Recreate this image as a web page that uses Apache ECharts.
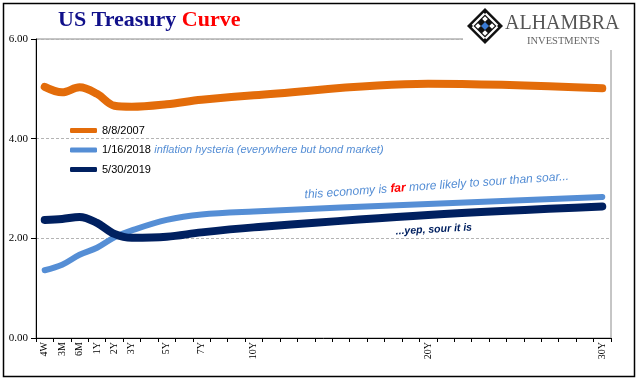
<!DOCTYPE html>
<html>
<head>
<meta charset="utf-8">
<script src="https://cdn.jsdelivr.net/npm/echarts@6/dist/echarts.min.js"></script>
<style>html,body{margin:0;padding:0;background:#fff}#c{width:641px;height:381px}</style>
</head>
<body>
<div id="c"></div>
<script>
// ---- data ----
const tenors = ['4W','3M','6M','1Y','2Y','3Y','5Y','7Y','10Y','20Y','30Y'];
const tenorSlot = [0,1,2,3,4,5,7,9,12,22,32];
const seriesNames = ['8/8/2007','1/16/2018','5/30/2019'];
const y2007 = [5.04,4.93,5.03,4.90,4.66,4.64,4.69,4.78,4.87,5.10,5.01];
const y2018 = [1.36,1.47,1.67,1.81,2.02,2.16,2.37,2.48,2.54,2.69,2.83];
const y2019 = [2.37,2.39,2.43,2.31,2.09,2.01,2.03,2.12,2.22,2.47,2.64];
const yTicks = [0,2,4,6];

const nSlots = tenorSlot[tenorSlot.length-1] + 1;
const cats = Array(nSlots).fill('');
tenors.forEach((t,i)=>{cats[tenorSlot[i]] = t;});
function spread(vals){
  const a = Array(nSlots).fill(null);
  vals.forEach((v,i)=>{a[tenorSlot[i]] = v;});
  return a;
}
const colors = ['#E36C0A','#558ED5','#002060'];
const widths = [8,6,8];

const chart = echarts.init(document.getElementById('c'), null, {renderer:'canvas'});
const serif = 'Liberation Serif';
const sans = 'Liberation Sans';

function diamond(cx, cy, r){ return [[cx,cy-r],[cx+r,cy],[cx,cy+r],[cx-r,cy]]; }
const lcx = 485, lcy = 26;
const logo = [
  {type:'polygon', shape:{points:diamond(lcx,lcy,18)}, style:{fill:'#111'}, z:101},
  {type:'polygon', shape:{points:diamond(lcx,lcy,14.5)}, style:{fill:'#fff'}, z:102},
  {type:'polygon', shape:{points:diamond(lcx,lcy,11.5)}, style:{fill:'#111'}, z:103},
  {type:'polygon', shape:{points:diamond(lcx,lcy-7,2.8)}, style:{fill:'#fff'}, z:104},
  {type:'polygon', shape:{points:diamond(lcx,lcy+7,2.8)}, style:{fill:'#fff'}, z:104},
  {type:'polygon', shape:{points:diamond(lcx-7,lcy,2.8)}, style:{fill:'#fff'}, z:104},
  {type:'polygon', shape:{points:diamond(lcx+7,lcy,2.8)}, style:{fill:'#fff'}, z:104},
  {type:'polygon', shape:{points:diamond(lcx,lcy-14,2)}, style:{fill:'#111'}, z:104},
  {type:'polygon', shape:{points:diamond(lcx,lcy+14,2)}, style:{fill:'#111'}, z:104},
  {type:'polygon', shape:{points:diamond(lcx-14,lcy,2)}, style:{fill:'#111'}, z:104},
  {type:'polygon', shape:{points:diamond(lcx+14,lcy,2)}, style:{fill:'#111'}, z:104},
  {type:'polygon', shape:{points:diamond(lcx,lcy,4)}, style:{fill:'#3A7BD5'}, z:105},
  {type:'text', x:505, y:34, style:{text:'ALHAMBRA', fill:'#555', font:'20px "Liberation Serif"', textVerticalAlign:'bottom'}, z:101},
  {type:'text', x:527, y:47, style:{text:'INVESTMENTS', fill:'#666', font:'10.5px "Liberation Serif"', textVerticalAlign:'bottom'}, z:101}
];

const option = {
  animation:false,
  color: colors,
  title:{
    text:'{a|US Treasury }{b|Curve}',
    left:53, top:4,
    textStyle:{rich:{
      a:{fontFamily:serif, fontSize:22, color:'#10108A'},
      b:{fontFamily:serif, fontSize:22, fontWeight:'bold', color:'#FF0000'}
    }}
  },
  legend:{
    orient:'vertical', left:70, top:125, padding:0,
    itemWidth:27, itemHeight:5, itemGap:8,
    icon:'roundRect',
    data: seriesNames,
    formatter: function(n){
      if(n===seriesNames[1]) return '{n|'+n+'} {i|inflation hysteria (everywhere but bond market)}';
      return '{n|'+n+'}';
    },
    textStyle:{
      rich:{
        n:{fontFamily:sans, fontSize:11, color:'#000', lineHeight:14},
        i:{fontFamily:sans, fontSize:11, fontStyle:'italic', color:'#558ED5', lineHeight:14}
      }
    }
  },
  grid:{left:36, right:30, top:39, bottom:43, show:true, borderColor:'#8c8c8c', borderWidth:1},
  xAxis:{
    type:'category', data:cats, boundaryGap:true,
    axisLine:{lineStyle:{color:'#000', width:1}},
    axisTick:{show:true, interval:0, length:4, lineStyle:{color:'#000'}},
    axisLabel:{interval:0, rotate:90, margin:4, fontFamily:serif, fontSize:10, color:'#000'},
    splitLine:{show:false}
  },
  yAxis:{
    type:'value', min:yTicks[0], max:yTicks[yTicks.length-1], interval:yTicks[1]-yTicks[0],
    axisLine:{show:true, lineStyle:{color:'#000', width:1}},
    axisTick:{show:true, length:5, lineStyle:{color:'#000'}},
    axisLabel:{formatter:v=>v.toFixed(2), fontFamily:serif, fontSize:11, color:'#000', margin:8},
    splitLine:{show:true, lineStyle:{color:'#b4b4b4', type:[3,2], width:1}}
  },
  series:[y2007,y2018,y2019].map((d,i)=>({
    name:seriesNames[i], type:'line', data:spread(d), connectNulls:true, smooth:0.35,
    showSymbol:false, symbol:'none',
    lineStyle:{width:widths[i], color:colors[i], cap:'round', join:'round'},
    itemStyle:{color:colors[i]}, z:2+i
  })),
  graphic:[
    {type:'rect', shape:{x:3.5, y:3.5, width:631, height:373}, style:{fill:null, stroke:'#000', lineWidth:1.5}, z:100},
    {type:'rect', shape:{x:463, y:5, width:165, height:45}, style:{fill:'#fff'}, z:100},
    ...logo,
    {type:'text', x:305, y:201, rotation:4*Math.PI/180,
     style:{text:'{a|this economy is }{b|far}{a| more likely to sour than soar...}', textVerticalAlign:'bottom',
       rich:{a:{fontFamily:sans, fontSize:12, fontStyle:'italic', fill:'#558ED5', color:'#558ED5'},
             b:{fontFamily:sans, fontSize:12, fontStyle:'italic', fontWeight:'bold', fill:'#FF0000', color:'#FF0000'}}}, z:110},
    {type:'text', x:396, y:237, rotation:3*Math.PI/180,
     style:{text:'...yep, sour it is', fill:'#002060', font:'italic bold 10.5px "Liberation Sans"', textVerticalAlign:'bottom'}, z:110}
  ]
};
chart.setOption(option);
</script>
</body>
</html>
